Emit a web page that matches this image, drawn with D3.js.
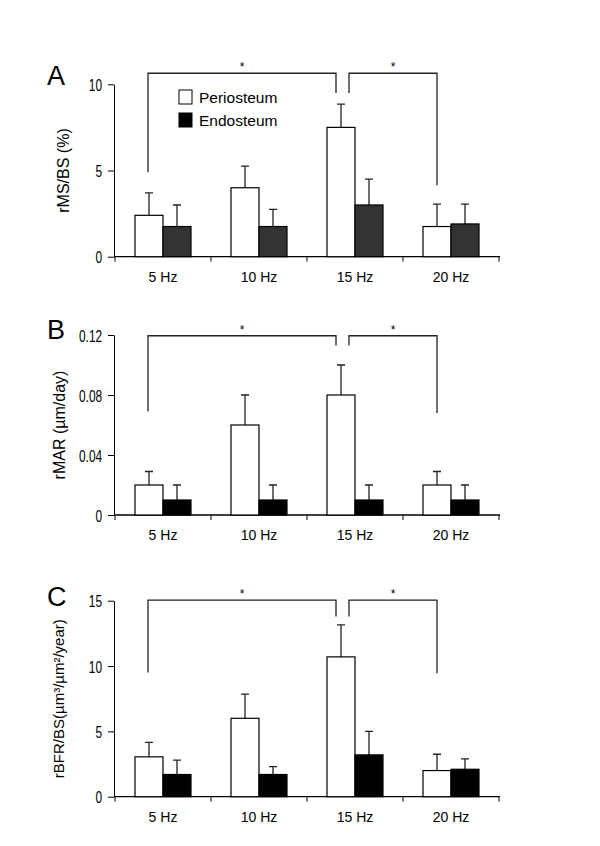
<!DOCTYPE html>
<html>
<head>
<meta charset="utf-8">
<script src="https://cdn.jsdelivr.net/npm/d3@7"></script>
<style>
  body { margin: 0; background: #fff; }
  text { font-family: "Liberation Sans", Arial, sans-serif; }
</style>
</head>
<body>
<svg></svg>
<script>
let width = 600, height = 846;

let svg = d3.select("svg")
    .attr("width", width)
    .attr("height", height)
    .attr("viewBox", "0 0 " + width + " " + height);

// data
const categories = ["5 Hz", "10 Hz", "15 Hz", "20 Hz"];
const seriesNames = ["Periosteum", "Endosteum"];

const msPeri = [2.4, 4.0, 7.5, 1.75];
const msPeriSd = [1.3, 1.25, 1.35, 1.3];
const msEndo = [1.75, 1.75, 3.0, 1.9];
const msEndoSd = [1.25, 1.0, 1.5, 1.15];
const msTicks = [0, 5, 10];

const marPeri = [0.02, 0.06, 0.08, 0.02];
const marPeriSd = [0.009, 0.02, 0.02, 0.009];
const marEndo = [0.01, 0.01, 0.01, 0.01];
const marEndoSd = [0.01, 0.01, 0.01, 0.01];
const marTicks = [0, 0.04, 0.08, 0.12];

const bfrPeri = [3.05, 6.0, 10.7, 2.0];
const bfrPeriSd = [1.1, 1.85, 2.45, 1.25];
const bfrEndo = [1.7, 1.7, 3.2, 2.1];
const bfrEndoSd = [1.1, 0.6, 1.8, 0.8];
const bfrTicks = [0, 5, 10, 15];

// significance brackets: [from, to, left leg end, right leg end, top]
const msSig = [[0, 2, 4.9, 9.5, 10.64], [2, 3, 9.5, 4.15, 10.64]];
const marSig = [[0, 2, 0.069, 0.113, 0.1195], [2, 3, 0.113, 0.068, 0.1195]];
const bfrSig = [[0, 2, 9.5, 13.8, 15.05], [2, 3, 13.8, 9.45, 15.05]];

let marFmt = d => d === 0 ? "0" : d3.format(".2f")(d);

let panels = [
    { letter: "A", label: "rMS/BS (%)", peri: msPeri, periSd: msPeriSd, endo: msEndo, endoSd: msEndoSd,
      ticks: msTicks, fmt: d3.format("d"), max: 10, y0: 256.7, yTop: 84.3, endoColor: "#333333",
      sig: msSig, legend: true, lx: 63, letterY: 85, labelSize: 16 },
    { letter: "B", label: "rMAR (\u00b5m/day)", peri: marPeri, periSd: marPeriSd, endo: marEndo, endoSd: marEndoSd,
      ticks: marTicks, fmt: marFmt, max: 0.12, y0: 515, yTop: 335, endoColor: "#000",
      sig: marSig, legend: false, lx: 59, letterY: 339, labelSize: 16 },
    { letter: "C", label: "rBFR/BS(\u00b5m\u00b3/\u00b5m\u00b2/year)", peri: bfrPeri, periSd: bfrPeriSd, endo: bfrEndo, endoSd: bfrEndoSd,
      ticks: bfrTicks, fmt: d3.format("d"), max: 15, y0: 796.7, yTop: 600.7, endoColor: "#000",
      sig: bfrSig, legend: false, lx: 59, letterY: 606, labelSize: 15 }
];

let x = d3.scaleBand()
    .domain(categories)
    .range([115, 499]);

let xSub = d3.scaleBand()
    .domain(seriesNames)
    .range([20, x.bandwidth() - 20]);

panels.forEach(p => {
    let y = d3.scaleLinear()
        .domain([0, p.max])
        .range([p.y0, p.yTop]);

    let g = svg.append("g");

    // y axis
    let yAxis = g.append("g")
        .attr("transform", "translate(114,0)")
        .call(d3.axisLeft(y).tickValues(p.ticks).tickFormat(p.fmt).tickSize(6).tickSizeOuter(0));
    yAxis.select(".domain").attr("stroke", "#000");
    yAxis.selectAll("line").attr("stroke", "#000");
    yAxis.selectAll("text")
        .attr("font-size", 17)
        .attr("fill", "#000")
        .attr("x", -17)
        .attr("transform", "scale(0.7,1)")
        .attr("dy", "0.36em")
        .style("font-family", "'Liberation Sans', Arial, sans-serif");

    // x axis
    let xAxis = g.append("g")
        .attr("transform", "translate(0," + p.y0 + ")");
    xAxis.append("line")
        .attr("x1", 114).attr("x2", 500)
        .attr("stroke", "#000").attr("stroke-width", 1.3);
    xAxis.selectAll(".tk")
        .data(categories.map(c => x(c)).concat([x.range()[1]]))
        .enter().append("line")
        .attr("class", "tk")
        .attr("x1", d => d).attr("x2", d => d)
        .attr("y1", 0).attr("y2", 5)
        .attr("stroke", "#000");
    xAxis.selectAll("text")
        .data(categories)
        .enter().append("text")
        .attr("x", d => x(d) + x.bandwidth() / 2)
        .attr("y", 25)
        .attr("text-anchor", "middle")
        .attr("font-size", 14)
        .text(d => d);

    // bars
    let rows = categories.map((c, i) => [
        { cat: c, s: seriesNames[0], v: p.peri[i], sd: p.periSd[i], fill: "#fff" },
        { cat: c, s: seriesNames[1], v: p.endo[i], sd: p.endoSd[i], fill: p.endoColor }
    ]).flat();

    g.selectAll(".err")
        .data(rows)
        .enter().append("path")
        .attr("class", "err")
        .attr("fill", "none")
        .attr("stroke", "#222")
        .attr("stroke-width", 1.3)
        .attr("d", d => {
            let cx = x(d.cat) + xSub(d.s) + xSub.bandwidth() / 2;
            return "M" + cx + "," + y(d.v) + "V" + y(d.v + d.sd) + "M" + (cx - 4) + "," + y(d.v + d.sd) + "H" + (cx + 4);
        });

    g.selectAll(".bar")
        .data(rows)
        .enter().append("rect")
        .attr("class", "bar")
        .attr("x", d => x(d.cat) + xSub(d.s))
        .attr("y", d => y(d.v))
        .attr("width", xSub.bandwidth())
        .attr("height", d => y(0) - y(d.v))
        .attr("fill", d => d.fill)
        .attr("stroke", "#000")
        .attr("stroke-width", 1.2);

    // significance brackets
    let periCenter = i => x(categories[i]) + xSub(seriesNames[0]) + xSub.bandwidth() / 2;
    p.sig.forEach((s, k) => {
        let x1 = periCenter(s[0]) + (k == 0 ? -1 : 8);
        let x2 = periCenter(s[1]) + (k == 0 ? -5 : 0);
        g.append("path")
            .attr("fill", "none")
            .attr("stroke", "#222")
            .attr("stroke-width", 1.3)
            .attr("d", "M" + x1 + "," + y(s[2]) + "V" + y(s[4]) + "H" + x2 + "V" + y(s[3]));
        g.append("text")
            .attr("x", (x1 + x2) / 2)
            .attr("y", y(s[4]) - 2)
            .attr("text-anchor", "middle")
            .attr("font-size", 12)
            .text("*");
    });

    // panel letter
    g.append("text")
        .attr("x", 47)
        .attr("y", p.letterY)
        .attr("font-size", 27)
        .text(p.letter);

    // y label
    g.append("text")
        .attr("transform", "translate(" + p.lx + "," + ((p.y0 + p.yTop) / 2) + ") rotate(-90)")
        .attr("text-anchor", "middle")
        .attr("dy", "0.35em")
        .attr("font-size", p.labelSize)
        .text(p.label);

    // legend
    if (p.legend) {
        let lg = g.append("g").attr("transform", "translate(179,90)");
        seriesNames.forEach((n, i) => {
            lg.append("rect")
                .attr("x", 0).attr("y", i * 23)
                .attr("width", 13).attr("height", 14)
                .attr("fill", i == 0 ? "#fff" : "#000")
                .attr("stroke", "#000");
            lg.append("text")
                .attr("x", 20).attr("y", i * 23 + 12.5)
                .attr("font-size", 15.5)
                .text(n);
        });
    }
});
</script>
</body>
</html>
